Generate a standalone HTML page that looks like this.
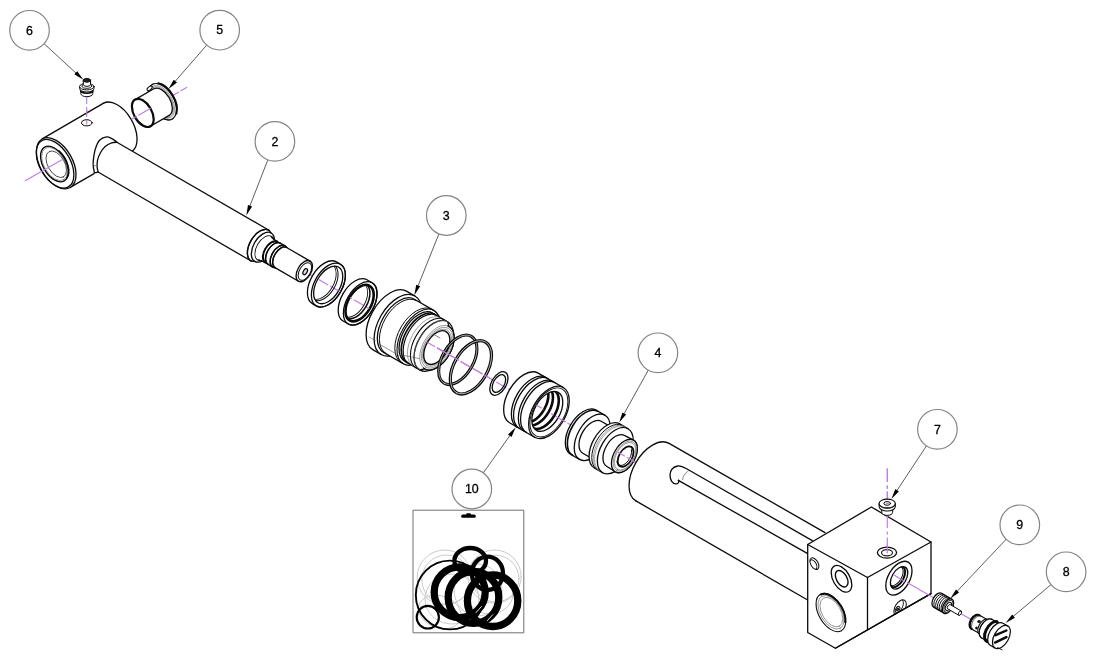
<!DOCTYPE html>
<html lang="en">
<head>
<meta charset="utf-8">
<title>Hydraulic cylinder exploded view</title>
<style>
html,body{margin:0;padding:0;background:#fff;}
body{width:1100px;height:669px;overflow:hidden;font-family:"Liberation Sans",sans-serif;}
svg{display:block;will-change:transform;filter:blur(0.35px);}
svg text{font-family:"Liberation Sans",sans-serif;}
</style>
</head>
<body>
<svg width="1100" height="669" viewBox="0 0 1100 669" stroke-linecap="round" stroke-linejoin="round">
<rect x="0" y="0" width="1100" height="669" fill="#fff"/>
<path d="M172.2 95.8 L187.2 87.1" fill="none" stroke="#c27de2" stroke-width="1.15" stroke-linecap="butt" stroke-dasharray="7.8 1.6"/>
<path d="M306.4 272.4 L650 470.7" fill="none" stroke="#c27de2" stroke-width="1.15" stroke-linecap="butt" stroke-dasharray="11.5 2.2"/>
<path d="M86.7 97 L86.7 124.5" fill="none" stroke="#c27de2" stroke-width="1.15" stroke-linecap="butt" stroke-dasharray="7 3"/>
<path d="M42.2 138.9L103.2 103.4A28 16.2 60 0 1 131.2 119.6A28 16.2 60 0 1 131.2 151.9L70.2 187.4A28 16.2 60 0 1 42.2 171.2A28 16.2 60 0 1 42.2 138.9Z" fill="#fff" stroke="none" stroke-width="1.3"/>
<path d="M42.2 138.9 L103.2 103.4" fill="none" stroke="#0a0a0a" stroke-width="1.3"/>
<path d="M103.2 103.4A28 16.2 60 0 1 130.7 118.6A28 16.2 60 0 1 132.3 151.2" fill="none" stroke="#0a0a0a" stroke-width="1.3"/>
<path d="M70.2 187.4 L94.1 173.6" fill="none" stroke="#0a0a0a" stroke-width="1.3"/>
<ellipse cx="56.2" cy="163.2" rx="28" ry="16.2" transform="rotate(60 56.2 163.2)" fill="#fff" stroke="#0a0a0a" stroke-width="1.3"/>
<ellipse cx="55.1" cy="163.8" rx="26.6" ry="15.3" transform="rotate(60 55.1 163.8)" fill="none" stroke="#0a0a0a" stroke-width="1.3"/>
<ellipse cx="54.4" cy="164" rx="19.5" ry="11.3" transform="rotate(60 54.4 164)" fill="none" stroke="#0a0a0a" stroke-width="1.4"/>
<ellipse cx="54.6" cy="164" rx="18.3" ry="10.6" transform="rotate(60 54.6 164)" fill="none" stroke="#6e6e6e" stroke-width="0.65"/>
<ellipse cx="56.3" cy="164.3" rx="14.6" ry="8.4" transform="rotate(60 56.3 164.3)" fill="none" stroke="#333" stroke-width="0.8"/>
<path d="M66.9 177.9A18.6 10.7 60 0 0 58.9 150.8" fill="none" stroke="#0a0a0a" stroke-width="1.5"/>
<path d="M25.2 180.8 L62.4 159.4" fill="none" stroke="#c27de2" stroke-width="1.15"/>
<ellipse cx="86.8" cy="122.8" rx="5.3" ry="3.1" fill="#fff" stroke="#0a0a0a" stroke-width="1"/>
<path d="M86.7 110 L86.7 124.5" fill="none" stroke="#c27de2" stroke-width="1.15" stroke-linecap="butt" stroke-dasharray="7 3"/>
<path d="M116 141.7L268.9 230.2A17.8 10.3 120 0 1 268.9 250.7A17.8 10.3 120 0 1 251.1 261L98 172C97.3 167 99 158 106 149 C110 144.5 113 142.5 116 141.7Z" fill="#fff" stroke="none" stroke-width="1.3"/>
<path d="M116.4 141.7C115.6 141.2 113.4 139.4 111.8 138.6C110.2 137.8 108.8 136.7 106.8 136.9C104.8 137.1 101.7 138.1 99.8 140C97.9 141.9 96.6 145.1 95.6 148.2C94.5 151.3 93.9 155.6 93.5 158.6C93.1 161.6 93 163.5 93.2 165.9C93.4 168.3 94.2 171.7 94.4 172.8L98.2 172.2" fill="none" stroke="#0a0a0a" stroke-width="1.3"/>
<path d="M117 142.2C116.1 142.3 113.6 142.2 111.6 142.9C109.6 143.6 107.1 144.8 105.2 146.5C103.3 148.2 101.6 150.7 100.3 153C99 155.3 98 158 97.5 160.3C97 162.6 97 164.7 97.1 166.7C97.2 168.7 98 171.3 98.2 172.2" fill="none" stroke="#0a0a0a" stroke-width="1.3"/>
<path d="M94.2 165.6 L97 166" fill="none" stroke="#6e6e6e" stroke-width="0.7"/>
<path d="M116 141.7 L268.9 230.2" fill="none" stroke="#0a0a0a" stroke-width="1.3"/>
<path d="M98 172 L251.1 261" fill="none" stroke="#0a0a0a" stroke-width="1.3"/>
<path d="M268.9 230.2A17.8 10.3 120 0 0 251.1 240.4A17.8 10.3 120 0 0 251.1 261L254.7 261.4A16.4 9.5 120 0 0 271.1 252A16.4 9.5 120 0 0 271.1 233Z" fill="#fff" stroke="#0a0a0a" stroke-width="1.3"/>
<path d="M271.1 233A16.4 9.5 120 0 0 254.7 242.5A16.4 9.5 120 0 0 254.7 261.4" fill="none" stroke="#0a0a0a" stroke-width="1.3"/>
<path d="M268.9 230.2A17.8 10.3 120 0 0 251.1 240.4A17.8 10.3 120 0 0 251.1 261" fill="none" stroke="#0a0a0a" stroke-width="1.3"/>
<ellipse cx="264.7" cy="248.3" rx="13.5" ry="7.8" transform="rotate(120 264.7 248.3)" fill="none" stroke="#0a0a0a" stroke-width="1.3"/>
<path d="M271.3 236.8A13.3 7.7 120 0 0 258.1 244.4A13.3 7.7 120 0 0 258.1 259.8L261.2 260.5A12.3 7.1 120 0 0 273.5 253.4A12.3 7.1 120 0 0 273.5 239.2Z" fill="#fff" stroke="none" stroke-width="1.3"/>
<path d="M258.1 259.8L261.2 260.5A12.3 7.1 120 0 0 273.5 253.4A12.3 7.1 120 0 0 273.5 239.2L271.3 236.8" fill="none" stroke="#0a0a0a" stroke-width="1.3"/>
<path d="M273.5 239.2A12.3 7.1 120 0 0 261.3 246.3A12.3 7.1 120 0 0 261.2 260.5L265.1 262.7A12.3 7.1 120 0 0 277.3 255.6A12.3 7.1 120 0 0 277.3 241.4Z" fill="#fff" stroke="none" stroke-width="1.3"/>
<path d="M261.2 260.5L265.1 262.7A12.3 7.1 120 0 0 277.3 255.6A12.3 7.1 120 0 0 277.3 241.4L273.5 239.2" fill="none" stroke="#0a0a0a" stroke-width="1.3"/>
<path d="M276.8 242.3A11.3 6.5 120 0 0 265.6 248.8A11.3 6.5 120 0 0 265.6 261.8L268.6 263.6A11.3 6.5 120 0 0 279.8 257A11.3 6.5 120 0 0 279.8 244Z" fill="#fff" stroke="#0a0a0a" stroke-width="1.3"/>
<path d="M277.3 241.4A12.3 7.1 120 0 0 265.1 248.5A12.3 7.1 120 0 0 265.1 262.7" fill="none" stroke="#0a0a0a" stroke-width="1.3"/>
<path d="M280.3 243.1A12.3 7.1 120 0 0 268.1 250.2A12.3 7.1 120 0 0 268.1 264.4L272.7 267.1A12.3 7.1 120 0 0 284.9 260A12.3 7.1 120 0 0 284.9 245.8Z" fill="#fff" stroke="#0a0a0a" stroke-width="1.3"/>
<path d="M280.3 243.1A12.3 7.1 120 0 0 268.1 250.2A12.3 7.1 120 0 0 268.1 264.4" fill="none" stroke="#0a0a0a" stroke-width="1.3"/>
<path d="M284.9 245.8A12.3 7.1 120 0 0 272.7 252.9A12.3 7.1 120 0 0 272.7 267.1L275 267.6A11.6 6.7 120 0 0 286.6 260.9A11.6 6.7 120 0 0 286.6 247.5Z" fill="#fff" stroke="#0a0a0a" stroke-width="1.3"/>
<path d="M284.9 245.8A12.3 7.1 120 0 0 272.7 252.9A12.3 7.1 120 0 0 272.7 267.1" fill="none" stroke="#0a0a0a" stroke-width="1.3"/>
<path d="M286.6 247.5A11.6 6.7 120 0 0 275 254.2A11.6 6.7 120 0 0 275 267.6L298.5 281.2A11.6 6.7 120 0 0 310.1 274.5A11.6 6.7 120 0 0 310.1 261.1Z" fill="#fff" stroke="#0a0a0a" stroke-width="1.3"/>
<path d="M310.1 261.1A11.6 6.7 120 0 0 298.5 267.8A11.6 6.7 120 0 0 298.5 281.2" fill="none" stroke="#0a0a0a" stroke-width="1.3"/>
<path d="M286.6 247.5A11.6 6.7 120 0 0 275 254.2A11.6 6.7 120 0 0 275 267.6" fill="none" stroke="#0a0a0a" stroke-width="1.3"/>
<ellipse cx="304.9" cy="271.5" rx="9.6" ry="5.5" transform="rotate(120 304.9 271.5)" fill="none" stroke="#0a0a0a" stroke-width="1"/>
<ellipse cx="305.2" cy="271.7" rx="3.3" ry="1.9" transform="rotate(120 305.2 271.7)" fill="#ddd" stroke="#0a0a0a" stroke-width="1.2"/>
<path d="M336.4 261.9A24.1 13.9 120 0 0 312.4 275.8A24.1 13.9 120 0 0 312.3 303.6L316.3 305.9A24.1 13.9 120 0 0 340.4 292A24.1 13.9 120 0 0 340.4 264.2Z" fill="#fff" stroke="#0a0a0a" stroke-width="1.3"/>
<ellipse cx="328.4" cy="285.1" rx="24.1" ry="13.9" transform="rotate(120 328.4 285.1)" fill="none" stroke="#0a0a0a" stroke-width="1.3"/>
<ellipse cx="328.2" cy="284.9" rx="20.6" ry="11.9" transform="rotate(120 328.2 284.9)" fill="#fff" stroke="#0a0a0a" stroke-width="1.3"/>
<clipPath id="c1"><ellipse cx="328.2" cy="284.9" rx="20.6" ry="11.9" transform="rotate(120 328.2 284.9)"/></clipPath><g clip-path="url(#c1)">
<path d="M306.4 272.4 L650 470.7" fill="none" stroke="#c27de2" stroke-width="1.15" stroke-linecap="butt" stroke-dasharray="11.5 2.2"/>
<ellipse cx="324" cy="282.5" rx="19.9" ry="11.5" transform="rotate(120 324 282.5)" fill="none" stroke="#0a0a0a" stroke-width="1"/>
<ellipse cx="322.6" cy="281.7" rx="19.3" ry="11.1" transform="rotate(120 322.6 281.7)" fill="none" stroke="#0a0a0a" stroke-width="0.9"/>
</g>
<path d="M366.9 279.8A23.8 13.7 120 0 0 343.1 293.6A23.8 13.7 120 0 0 343.1 321L348.3 324A23.8 13.7 120 0 0 372.1 310.3A23.8 13.7 120 0 0 372.1 282.8Z" fill="#fff" stroke="#0a0a0a" stroke-width="1.3"/>
<ellipse cx="360.2" cy="303.4" rx="23.8" ry="13.7" transform="rotate(120 360.2 303.4)" fill="none" stroke="#0a0a0a" stroke-width="1.3"/>
<ellipse cx="359.6" cy="303.1" rx="20" ry="11.5" transform="rotate(120 359.6 303.1)" fill="#fff" stroke="#0a0a0a" stroke-width="2.6"/>
<clipPath id="c2"><ellipse cx="359.6" cy="303.1" rx="19.4" ry="11.2" transform="rotate(120 359.6 303.1)"/></clipPath><g clip-path="url(#c2)">
<path d="M306.4 272.4 L650 470.7" fill="none" stroke="#c27de2" stroke-width="1.15" stroke-linecap="butt" stroke-dasharray="11.5 2.2"/>
<ellipse cx="356.2" cy="301.1" rx="19.4" ry="11.2" transform="rotate(120 356.2 301.1)" fill="none" stroke="#0a0a0a" stroke-width="1.5"/>
<ellipse cx="354.4" cy="300.1" rx="18.8" ry="10.8" transform="rotate(120 354.4 300.1)" fill="none" stroke="#0a0a0a" stroke-width="0.9"/>
</g>
<path d="M173.1 118.4A19.9 11.5 -120 0 0 173.1 95.4A19.9 11.5 -120 0 0 153.2 83.9L152.3 84.4A19.9 11.5 -120 0 0 152.3 107.4A19.9 11.5 -120 0 0 172.2 118.9Z" fill="#fff" stroke="none" stroke-width="1.1"/>
<path d="M153.2 83.9L152.3 84.4A19.9 11.5 -120 0 0 152.3 107.4A19.9 11.5 -120 0 0 172.2 118.9L173.1 118.4" fill="none" stroke="#0a0a0a" stroke-width="1.1"/>
<ellipse cx="162.3" cy="101.7" rx="19.9" ry="11.5" transform="rotate(-120 162.3 101.7)" fill="#fff" stroke="#0a0a0a" stroke-width="1.1"/>
<path d="M176.4 113.7A19.9 11.5 -120 0 0 158.2 83.3" fill="none" stroke="#0a0a0a" stroke-width="1.9"/>
<ellipse cx="161.8" cy="101.9" rx="18.2" ry="10.5" transform="rotate(-120 161.8 101.9)" fill="none" stroke="#6e6e6e" stroke-width="0.65"/>
<ellipse cx="161.5" cy="102.1" rx="17" ry="9.8" transform="rotate(-120 161.5 102.1)" fill="none" stroke="#6e6e6e" stroke-width="0.65"/>
<path d="M169.2 115.4A15.4 8.9 -120 0 0 169.2 97.7A15.4 8.9 -120 0 0 153.8 88.8L135.1 99.6A15.4 8.9 -120 0 0 135.1 117.3A15.4 8.9 -120 0 0 150.5 126.2Z" fill="#fff" stroke="#0a0a0a" stroke-width="1.3"/>
<ellipse cx="142.8" cy="112.9" rx="15.4" ry="8.9" transform="rotate(-120 142.8 112.9)" fill="#fff" stroke="#0a0a0a" stroke-width="2.2"/>
<ellipse cx="149.6" cy="88.3" rx="3" ry="1.6" transform="rotate(-40 149.6 88.3)" fill="#fff" stroke="#0a0a0a" stroke-width="1"/>
<path d="M132 119 L136.4 116.5" fill="none" stroke="#c27de2" stroke-width="1.15"/>
<path d="M138.6 115.2 L150.2 108.6" fill="none" stroke="#c27de2" stroke-width="1.15"/>
<path d="M80.8 91.5 L80.8 93.6 A6 3.1 0 0 0 92.8 93.6 L92.8 91.5Z" fill="#fff" stroke="#0a0a0a" stroke-width="1"/>
<path d="M80.6 90.6 A6.2 2.6 0 0 0 93 90.6" fill="none" stroke="#0a0a0a" stroke-width="1.6"/>
<path d="M79.6 86.6 L79.6 88.6 A7.2 3.4 0 0 0 94 88.6 L94 86.6Z" fill="#fff" stroke="#0a0a0a" stroke-width="1"/>
<ellipse cx="86.8" cy="86.6" rx="7.2" ry="3.3" fill="#fff" stroke="#0a0a0a" stroke-width="1"/>
<ellipse cx="86.8" cy="86" rx="4.8" ry="2.3" fill="#fff" stroke="#0a0a0a" stroke-width="0.9"/>
<path d="M83.2 80.4 L83.4 84.6 A3.5 1.8 0 0 0 90.4 84.6 L90.6 80.4Z" fill="#fff" stroke="#0a0a0a" stroke-width="1"/>
<ellipse cx="86.9" cy="80.3" rx="3.6" ry="1.9" fill="#222" stroke="#0a0a0a" stroke-width="1"/>
<path d="M406.9 291.4A33.8 19.5 120 0 0 373.1 310.9A33.8 19.5 120 0 0 373.1 349.9L381.1 354.5A33.8 19.5 120 0 0 414.9 335A33.8 19.5 120 0 0 414.9 296Z" fill="#fff" stroke="#0a0a0a" stroke-width="1.3"/>
<path d="M414.9 296A33.8 19.5 120 0 0 381.1 315.5A33.8 19.5 120 0 0 381.1 354.5" fill="none" stroke="#0a0a0a" stroke-width="1.3"/>
<path d="M414.4 299.2A30.7 17.7 120 0 0 383.7 317A30.7 17.7 120 0 0 383.6 352.4L403.3 363.8A30.7 17.7 120 0 0 434 346.1A30.7 17.7 120 0 0 434.1 310.6Z" fill="#fff" stroke="#0a0a0a" stroke-width="1.3"/>
<path d="M416 300.5A30.4 17.5 120 0 0 385.6 318.1A30.4 17.5 120 0 0 385.6 353.2" fill="none" stroke="#0a0a0a" stroke-width="1"/>
<path d="M431.8 309.3A30.7 17.7 120 0 0 401.1 327A30.7 17.7 120 0 0 401 362.5" fill="none" stroke="#0a0a0a" stroke-width="1"/>
<path d="M432.6 313.1A27.8 16 120 0 0 404.8 329.2A27.8 16 120 0 0 404.8 361.3L419.8 369.9A27.8 16 120 0 0 447.6 353.9A27.8 16 120 0 0 447.6 321.8Z" fill="#fff" stroke="#0a0a0a" stroke-width="1.3"/>
<path d="M434.1 310.6A30.7 17.7 120 0 0 403.4 328.3A30.7 17.7 120 0 0 403.3 363.8" fill="none" stroke="#0a0a0a" stroke-width="1.1"/>
<path d="M434.8 314.4A27.8 16 120 0 0 407 330.4A27.8 16 120 0 0 407 362.5" fill="none" stroke="#0a0a0a" stroke-width="1.7"/>
<path d="M436.7 315.5A27.8 16 120 0 0 408.9 331.5A27.8 16 120 0 0 408.9 363.6" fill="none" stroke="#0a0a0a" stroke-width="1.2"/>
<path d="M440.9 317.9A27.8 16 120 0 0 413.1 334A27.8 16 120 0 0 413.1 366.1" fill="none" stroke="#6e6e6e" stroke-width="0.65"/>
<path d="M444 319.7A27.8 16 120 0 0 416.2 335.8A27.8 16 120 0 0 416.2 367.9" fill="none" stroke="#0a0a0a" stroke-width="1.1"/>
<path d="M447.6 321.8A27.8 16 120 0 0 419.8 337.8A27.8 16 120 0 0 419.8 369.9L424.7 368.8A24.4 14.1 120 0 0 449.1 354.7A24.4 14.1 120 0 0 449.1 326.6Z" fill="#fff" stroke="#0a0a0a" stroke-width="1.3"/>
<path d="M447.6 321.8A27.8 16 120 0 0 419.8 337.8A27.8 16 120 0 0 419.8 369.9" fill="none" stroke="#6e6e6e" stroke-width="0.65"/>
<ellipse cx="436.9" cy="347.7" rx="24.4" ry="14.1" transform="rotate(120 436.9 347.7)" fill="#fff" stroke="#6e6e6e" stroke-width="0.65"/>
<path d="M423.5 368A24.4 14.1 120 0 0 449.1 354.7A24.4 14.1 120 0 0 447.8 326" fill="none" stroke="#0a0a0a" stroke-width="1.3"/>
<ellipse cx="437.1" cy="347.8" rx="22.4" ry="12.9" transform="rotate(120 437.1 347.8)" fill="none" stroke="#6e6e6e" stroke-width="0.65"/>
<ellipse cx="437" cy="347.8" rx="20.4" ry="11.8" transform="rotate(120 437 347.8)" fill="none" stroke="#6e6e6e" stroke-width="0.65"/>
<ellipse cx="436.8" cy="347.6" rx="18.5" ry="10.7" transform="rotate(120 436.8 347.6)" fill="none" stroke="#0a0a0a" stroke-width="1.4"/>
<clipPath id="c3"><ellipse cx="436.8" cy="347.6" rx="18.5" ry="10.7" transform="rotate(120 436.8 347.6)"/></clipPath><g clip-path="url(#c3)">
<path d="M306.4 272.4 L650 470.7" fill="none" stroke="#c27de2" stroke-width="1.15" stroke-linecap="butt" stroke-dasharray="11.5 2.2"/>
<path d="M430 332.2 L440 338" fill="none" stroke="#555" stroke-width="0.7"/>
</g>
<clipPath id="c4"><path d="M437.2 0L452 0L452 669L437.2 669Z"/></clipPath><g clip-path="url(#c4)">
<path d="M306.4 272.4 L650 470.7" fill="none" stroke="#c27de2" stroke-width="1.15" stroke-linecap="butt" stroke-dasharray="11.5 2.2"/>
</g>
<path d="M369 337 L375.4 340.7 M378 343.4 L398.6 355.3 M400 354.6 L419.4 358.6" fill="none" stroke="#555" stroke-width="0.6"/>
<ellipse cx="457.8" cy="359.8" rx="27.1" ry="15.6" transform="rotate(120 457.8 359.8)" fill="none" stroke="#0a0a0a" stroke-width="3.1"/>
<ellipse cx="457.8" cy="359.8" rx="27.1" ry="15.6" transform="rotate(120 457.8 359.8)" fill="none" stroke="#fff" stroke-width="0.7" stroke-opacity="0.8"/>
<ellipse cx="470.9" cy="367.3" rx="29.2" ry="16.8" transform="rotate(120 470.9 367.3)" fill="none" stroke="#0a0a0a" stroke-width="3.2"/>
<ellipse cx="470.9" cy="367.3" rx="29.2" ry="16.8" transform="rotate(120 470.9 367.3)" fill="none" stroke="#fff" stroke-width="0.8" stroke-opacity="0.8"/>
<clipPath id="c5"><path d="M437.2 0L490 0L490 669L437.2 669Z"/></clipPath><g clip-path="url(#c5)">
<path d="M306.4 272.4 L650 470.7" fill="none" stroke="#c27de2" stroke-width="1.15" stroke-linecap="butt" stroke-dasharray="11.5 2.2"/>
</g>
<ellipse cx="498.9" cy="383.5" rx="12.9" ry="7.4" transform="rotate(120 498.9 383.5)" fill="none" stroke="#0a0a0a" stroke-width="1.3"/>
<ellipse cx="498.9" cy="383.5" rx="9.6" ry="5.5" transform="rotate(120 498.9 383.5)" fill="none" stroke="#0a0a0a" stroke-width="1.3"/>
<path d="M538.2 373.1A28.7 16.6 120 0 0 509.6 389.7A28.7 16.6 120 0 0 509.5 422.8L534.6 437.3A28.7 16.6 120 0 0 563.3 420.7A28.7 16.6 120 0 0 563.3 387.5Z" fill="#fff" stroke="#0a0a0a" stroke-width="1.3"/>
<path d="M563.3 387.5A28.7 16.6 120 0 0 534.6 404.1A28.7 16.6 120 0 0 534.6 437.3" fill="none" stroke="#0a0a0a" stroke-width="1.3"/>
<path d="M546 377.5A28.7 16.6 120 0 0 517.3 394.1A28.7 16.6 120 0 0 517.2 427.2" fill="none" stroke="#0a0a0a" stroke-width="1.3"/>
<path d="M548.1 378.8A28.7 16.6 120 0 0 519.5 395.4A28.7 16.6 120 0 0 519.4 428.5" fill="none" stroke="#0a0a0a" stroke-width="1.3"/>
<path d="M553 381.6A28.7 16.6 120 0 0 524.3 398.1A28.7 16.6 120 0 0 524.3 431.3" fill="none" stroke="#0a0a0a" stroke-width="1.3"/>
<path d="M555.1 382.8A28.7 16.6 120 0 0 526.5 399.4A28.7 16.6 120 0 0 526.4 432.5" fill="none" stroke="#0a0a0a" stroke-width="1.3"/>
<ellipse cx="548.9" cy="412.4" rx="26.8" ry="15.5" transform="rotate(120 548.9 412.4)" fill="none" stroke="#0a0a0a" stroke-width="0.9"/>
<ellipse cx="547.3" cy="411.4" rx="21.9" ry="12.6" transform="rotate(120 547.3 411.4)" fill="#fff" stroke="#0a0a0a" stroke-width="1.3"/>
<clipPath id="c6"><ellipse cx="547.3" cy="411.4" rx="21.9" ry="12.6" transform="rotate(120 547.3 411.4)"/></clipPath><g clip-path="url(#c6)">
<ellipse cx="543.6" cy="409.3" rx="21.5" ry="12.4" transform="rotate(120 543.6 409.3)" fill="none" stroke="#0a0a0a" stroke-width="2.6"/>
<clipPath id="c7"><ellipse cx="543.6" cy="409.3" rx="21.5" ry="12.4" transform="rotate(120 543.6 409.3)"/></clipPath><g clip-path="url(#c7)">
<ellipse cx="538" cy="406.1" rx="21.2" ry="12.2" transform="rotate(120 538 406.1)" fill="none" stroke="#0a0a0a" stroke-width="2.6"/>
<clipPath id="c8"><ellipse cx="538" cy="406.1" rx="21.2" ry="12.2" transform="rotate(120 538 406.1)"/></clipPath><g clip-path="url(#c8)">
<ellipse cx="533.6" cy="403.5" rx="20.9" ry="12.1" transform="rotate(120 533.6 403.5)" fill="none" stroke="#0a0a0a" stroke-width="2.6"/>
<clipPath id="c9"><ellipse cx="533.6" cy="403.5" rx="20.9" ry="12.1" transform="rotate(120 533.6 403.5)"/></clipPath><g clip-path="url(#c9)">
<path d="M306.4 272.4 L650 470.7" fill="none" stroke="#c27de2" stroke-width="1.15" stroke-linecap="butt" stroke-dasharray="11.5 2.2"/>
</g></g></g></g>
<clipPath id="c10"><path d="M551 0L566 0L566 669L551 669Z"/></clipPath><g clip-path="url(#c10)">
<path d="M306.4 272.4 L650 470.7" fill="none" stroke="#c27de2" stroke-width="1.15" stroke-linecap="butt" stroke-dasharray="11.5 2.2"/>
</g>
<path d="M596 410.1A25.5 14.7 120 0 0 570.6 424.9A25.5 14.7 120 0 0 570.5 454.3L579.5 459.4A25.5 14.7 120 0 0 604.9 444.7A25.5 14.7 120 0 0 605 415.3Z" fill="#fff" stroke="#0a0a0a" stroke-width="1.3"/>
<path d="M605 415.3A25.5 14.7 120 0 0 579.5 430A25.5 14.7 120 0 0 579.5 459.4" fill="none" stroke="#0a0a0a" stroke-width="1.3"/>
<path d="M597.9 411.4A25.3 14.6 120 0 0 572.6 426A25.3 14.6 120 0 0 572.6 455.2" fill="none" stroke="#0a0a0a" stroke-width="1.6"/>
<path d="M601.2 421.2A18.5 10.7 120 0 0 582.8 431.9A18.5 10.7 120 0 0 582.8 453.3L597.8 461.9A18.5 10.7 120 0 0 616.2 451.2A18.5 10.7 120 0 0 616.2 429.9Z" fill="#fff" stroke="#0a0a0a" stroke-width="1.3"/>
<path d="M619.7 423.9A25.4 14.7 120 0 0 594.3 438.6A25.4 14.7 120 0 0 594.3 467.9L602.6 472.7A25.4 14.7 120 0 0 628 458A25.4 14.7 120 0 0 628 428.7Z" fill="#fff" stroke="#0a0a0a" stroke-width="1.3"/>
<path d="M628 428.7A25.4 14.7 120 0 0 602.6 443.4A25.4 14.7 120 0 0 602.6 472.7" fill="none" stroke="#0a0a0a" stroke-width="1.3"/>
<path d="M622.3 425.4A25.4 14.7 120 0 0 596.9 440.1A25.4 14.7 120 0 0 596.9 469.4" fill="none" stroke="#0a0a0a" stroke-width="1"/>
<path d="M623.9 426.3A25.4 14.7 120 0 0 598.5 441A25.4 14.7 120 0 0 598.5 470.3" fill="none" stroke="#6e6e6e" stroke-width="0.65"/>
<path d="M625.1 427A25.4 14.7 120 0 0 599.7 441.7A25.4 14.7 120 0 0 599.7 471" fill="none" stroke="#6e6e6e" stroke-width="0.65"/>
<path d="M624.4 435.4A17.8 10.3 120 0 0 606.6 445.7A17.8 10.3 120 0 0 606.6 466.2L615.2 471.8A18.3 10.6 120 0 0 633.5 461.2A18.3 10.6 120 0 0 633.5 440.1Z" fill="#fff" stroke="#0a0a0a" stroke-width="1.3"/>
<ellipse cx="624.4" cy="456" rx="18.3" ry="10.6" transform="rotate(120 624.4 456)" fill="#fff" stroke="#0a0a0a" stroke-width="1.3"/>
<ellipse cx="624.8" cy="456.2" rx="16.6" ry="9.6" transform="rotate(120 624.8 456.2)" fill="none" stroke="#6e6e6e" stroke-width="0.65"/>
<ellipse cx="625" cy="456.3" rx="15.2" ry="8.8" transform="rotate(120 625 456.3)" fill="none" stroke="#6e6e6e" stroke-width="0.65"/>
<ellipse cx="625.6" cy="456.6" rx="11.2" ry="6.5" transform="rotate(120 625.6 456.6)" fill="none" stroke="#0a0a0a" stroke-width="1.8"/>
<path d="M616.8 461.7A10.6 6.1 120 0 0 625.8 463.4A10.6 6.1 120 0 0 631.5 449.6" fill="none" stroke="#0a0a0a" stroke-width="1"/>
<clipPath id="c11"><path d="M618 0L637 0L637 669L618 669Z"/></clipPath><g clip-path="url(#c11)">
<path d="M306.4 272.4 L650 470.7" fill="none" stroke="#c27de2" stroke-width="1.15" stroke-linecap="butt" stroke-dasharray="11.5 2.2"/>
</g>
<path d="M669.1 443.4A33.2 19.2 120 0 0 635.9 462.6A33.2 19.2 120 0 0 635.9 500.9L807.7 600L825 532.6Z" fill="#fff" stroke="none" stroke-width="1.3"/>
<path d="M669.1 443.4A33.2 19.2 120 0 0 635.9 462.6A33.2 19.2 120 0 0 635.9 500.9" fill="none" stroke="#0a0a0a" stroke-width="1.3"/>
<path d="M669.1 443.4 L825 532.6" fill="none" stroke="#0a0a0a" stroke-width="1.3"/>
<path d="M635.9 500.9 L807.7 600" fill="none" stroke="#0a0a0a" stroke-width="1.3"/>
<path d="M812.3 540.6 L686.6 468.8 C682 466.2 679.6 465.8 677.7 466 C673 466.6 670 470.5 670 475 C670 480 672.5 483.9 675.9 483.9 C677.9 483.9 679.4 482.2 678.5 480.2" fill="none" stroke="#0a0a0a" stroke-width="1.3"/>
<path d="M807.7 553.6 L678.4 480.4" fill="none" stroke="#0a0a0a" stroke-width="1.3"/>
<path d="M688.4 470.9 C684.8 473.4 682.7 476.4 682.6 479.6" fill="none" stroke="#6e6e6e" stroke-width="0.8"/>
<path d="M807.7 544.5L871.4 507L931 542L931 593.6L835.4 648.2L807.7 632.5Z" fill="#fff" stroke="#0a0a0a" stroke-width="1.3"/>
<path d="M807.7 544.5L867.5 577.5L931 542" fill="none" stroke="#0a0a0a" stroke-width="1.3"/>
<path d="M867.5 577.5 L867.5 630" fill="none" stroke="#0a0a0a" stroke-width="1.3"/>
<path d="M887.3 468.5 L887.3 553" fill="none" stroke="#c27de2" stroke-width="1.15" stroke-linecap="butt" stroke-dasharray="13.5 3.5 3.2 2.8"/>
<ellipse cx="887" cy="552.6" rx="9.6" ry="5.5" fill="#fff" stroke="#0a0a0a" stroke-width="1.3"/>
<ellipse cx="887" cy="552.8" rx="5.5" ry="3.1" fill="#fff" stroke="#222" stroke-width="1.2"/>
<path d="M887.3 545 L887.3 553" fill="none" stroke="#c27de2" stroke-width="1.15"/>
<ellipse cx="814.4" cy="563.7" rx="6.4" ry="3.7" transform="rotate(60 814.4 563.7)" fill="none" stroke="#0a0a0a" stroke-width="1"/>
<clipPath id="c12"><ellipse cx="814.4" cy="563.7" rx="6.4" ry="3.7" transform="rotate(60 814.4 563.7)"/></clipPath><g clip-path="url(#c12)">
<ellipse cx="813.2" cy="564.6" rx="5.2" ry="3" transform="rotate(60 813.2 564.6)" fill="none" stroke="#0a0a0a" stroke-width="1"/>
</g>
<ellipse cx="841.5" cy="578.8" rx="14.6" ry="8.4" transform="rotate(60 841.5 578.8)" fill="none" stroke="#0a0a0a" stroke-width="1.3"/>
<ellipse cx="841.7" cy="578.7" rx="9" ry="5.2" transform="rotate(60 841.7 578.7)" fill="none" stroke="#0a0a0a" stroke-width="1.4"/>
<ellipse cx="830.9" cy="612.5" rx="21" ry="12.1" transform="rotate(60 830.9 612.5)" fill="none" stroke="#0a0a0a" stroke-width="1.1"/>
<ellipse cx="831" cy="612.4" rx="18.4" ry="10.6" transform="rotate(60 831 612.4)" fill="none" stroke="#6e6e6e" stroke-width="0.65"/>
<ellipse cx="831.4" cy="612.2" rx="16.2" ry="9.3" transform="rotate(60 831.4 612.2)" fill="none" stroke="#777" stroke-width="0.7"/>
<path d="M845.3 622.3A20.5 11.8 60 0 0 837.3 601.2A20.5 11.8 60 0 0 821.1 594.5" fill="none" stroke="#0a0a0a" stroke-width="2"/>
<ellipse cx="898.9" cy="578.2" rx="18.5" ry="10.7" transform="rotate(120 898.9 578.2)" fill="none" stroke="#0a0a0a" stroke-width="1.3"/>
<ellipse cx="899.1" cy="577.8" rx="12.3" ry="7.1" transform="rotate(120 899.1 577.8)" fill="none" stroke="#0a0a0a" stroke-width="1.3"/>
<clipPath id="c13"><ellipse cx="899.1" cy="577.8" rx="12.3" ry="7.1" transform="rotate(120 899.1 577.8)"/></clipPath><g clip-path="url(#c13)">
<ellipse cx="897" cy="576.6" rx="11.6" ry="6.7" transform="rotate(120 897 576.6)" fill="none" stroke="#0a0a0a" stroke-width="2"/>
<ellipse cx="895.6" cy="575.8" rx="10.8" ry="6.2" transform="rotate(120 895.6 575.8)" fill="none" stroke="#0a0a0a" stroke-width="1"/>
</g>
<clipPath id="c14"><path d="M867.5 577.5L931 542L931 593.6L867.5 630Z"/></clipPath><g clip-path="url(#c14)">
<ellipse cx="900.1" cy="607.9" rx="8.8" ry="5.1" transform="rotate(120 900.1 607.9)" fill="none" stroke="#0a0a0a" stroke-width="1"/>
<clipPath id="c15"><ellipse cx="900.1" cy="607.9" rx="8.8" ry="5.1" transform="rotate(120 900.1 607.9)"/></clipPath><g clip-path="url(#c15)">
<ellipse cx="897.6" cy="606.5" rx="8.2" ry="4.7" transform="rotate(120 897.6 606.5)" fill="none" stroke="#0a0a0a" stroke-width="0.9"/>
</g>
<ellipse cx="897.6" cy="609.4" rx="3.3" ry="1.9" transform="rotate(120 897.6 609.4)" fill="none" stroke="#0a0a0a" stroke-width="0.9"/>
<ellipse cx="897.6" cy="609.4" rx="1.5" ry="0.9" transform="rotate(120 897.6 609.4)" fill="#444" stroke="#0a0a0a" stroke-width="0.9"/>
</g>
<path d="M931 593.6 L835.4 648.2" fill="none" stroke="#0a0a0a" stroke-width="1.3"/>
<path d="M893.2 574.6 L905 581.4" fill="none" stroke="#c27de2" stroke-width="1.15" stroke-linecap="butt"/>
<path d="M907.1 582.6 L934 598.1" fill="none" stroke="#c27de2" stroke-width="1.15" stroke-linecap="butt"/>
<path d="M958 612 L972 620" fill="none" stroke="#c27de2" stroke-width="1.15" stroke-linecap="butt"/>
<path d="M887.3 468.5 L887.3 500" fill="none" stroke="#c27de2" stroke-width="1.15" stroke-linecap="butt" stroke-dasharray="13.5 3.5 3.2 2.8"/>
<path d="M881.6 508 L881.8 512.6 A5.4 2.8 0 0 0 892.6 512.6 L892.8 508Z" fill="#fff" stroke="#0a0a0a" stroke-width="1"/>
<path d="M879.1 503.5 L879.1 506.6 A8.1 4.4 0 0 0 895.3 506.6 L895.3 503.5Z" fill="#fff" stroke="#0a0a0a" stroke-width="1.1"/>
<ellipse cx="887.2" cy="503.5" rx="8.1" ry="4.4" fill="#fff" stroke="#0a0a0a" stroke-width="1.1"/>
<path d="M879.4 505.2 A8.1 4.4 0 0 0 895 505.2" fill="none" stroke="#0a0a0a" stroke-width="0.8"/>
<ellipse cx="887.2" cy="503.4" rx="3.3" ry="1.9" fill="#fff" stroke="#0a0a0a" stroke-width="1"/>
<ellipse cx="887.4" cy="503.5" rx="1.2" ry="0.7" fill="#c27de2" stroke="#c27de2" stroke-width="0.6"/>
<path d="M941.6 593.3A8 4.6 120 0 0 933.6 597.9A8 4.6 120 0 0 933.6 607.1L944 613.1A8 4.6 120 0 0 952 608.5A8 4.6 120 0 0 952 599.3Z" fill="#fff" stroke="#0a0a0a" stroke-width="1.3"/>
<path d="M952 599.3A8 4.6 120 0 0 944 603.9A8 4.6 120 0 0 944 613.1" fill="none" stroke="#0a0a0a" stroke-width="1.3"/>
<path d="M943.4 594.3A8 4.6 120 0 0 935.4 598.9A8 4.6 120 0 0 935.4 608.2" fill="none" stroke="#0a0a0a" stroke-width="1"/>
<path d="M945.2 595.3A8 4.6 120 0 0 937.2 600A8 4.6 120 0 0 937.2 609.2" fill="none" stroke="#0a0a0a" stroke-width="1"/>
<path d="M947 596.4A8 4.6 120 0 0 939 601A8 4.6 120 0 0 939 610.2" fill="none" stroke="#0a0a0a" stroke-width="1"/>
<path d="M948.8 597.4A8 4.6 120 0 0 940.8 602A8 4.6 120 0 0 940.8 611.3" fill="none" stroke="#0a0a0a" stroke-width="1"/>
<path d="M950.6 598.5A8 4.6 120 0 0 942.6 603.1A8 4.6 120 0 0 942.6 612.3" fill="none" stroke="#0a0a0a" stroke-width="1"/>
<ellipse cx="948.4" cy="606.4" rx="6.6" ry="3.8" transform="rotate(120 948.4 606.4)" fill="none" stroke="#0a0a0a" stroke-width="0.8"/>
<ellipse cx="948.4" cy="606.4" rx="4.4" ry="2.5" transform="rotate(120 948.4 606.4)" fill="none" stroke="#0a0a0a" stroke-width="1.1"/>
<path d="M950.2 604.6A2.5 1.4 120 0 0 947.8 606A2.5 1.4 120 0 0 947.8 608.9L958.8 615.3A2.5 1.4 120 0 0 961.2 613.8A2.5 1.4 120 0 0 961.2 611Z" fill="#fff" stroke="#0a0a0a" stroke-width="1"/>
<path d="M961.2 611A2.5 1.4 120 0 0 958.8 612.4A2.5 1.4 120 0 0 958.8 615.3" fill="none" stroke="#0a0a0a" stroke-width="1"/>
<path d="M978.6 614.7A7.9 4.6 120 0 0 970.7 619.3A7.9 4.6 120 0 0 970.6 628.4L980 633.8A7.9 4.6 120 0 0 987.9 629.3A7.9 4.6 120 0 0 988 620.1Z" fill="#fff" stroke="#0a0a0a" stroke-width="1.1"/>
<path d="M979.4 615.2A7.9 4.6 120 0 0 971.5 619.7A7.9 4.6 120 0 0 971.4 628.9" fill="none" stroke="#0a0a0a" stroke-width="2"/>
<path d="M981 616.1A7.9 4.6 120 0 0 973.1 620.7A7.9 4.6 120 0 0 973 629.8" fill="none" stroke="#0a0a0a" stroke-width="0.7"/>
<path d="M988.4 619.4A8.8 5.1 120 0 0 979.6 624.4A8.8 5.1 120 0 0 979.6 634.6L981.3 637.7A10.6 6.1 120 0 0 991.9 631.5A10.6 6.1 120 0 0 991.9 619.3Z" fill="#fff" stroke="#0a0a0a" stroke-width="1.1"/>
<path d="M991.9 619.3A10.6 6.1 120 0 0 981.3 625.4A10.6 6.1 120 0 0 981.3 637.7L990.7 643.1A10.6 6.1 120 0 0 1001.3 637A10.6 6.1 120 0 0 1001.3 624.7Z" fill="#fff" stroke="#0a0a0a" stroke-width="1.1"/>
<path d="M991.9 619.3A10.6 6.1 120 0 0 981.3 625.4A10.6 6.1 120 0 0 981.3 637.7" fill="none" stroke="#0a0a0a" stroke-width="0.9"/>
<ellipse cx="979.0" cy="621.6" rx="1.7" ry="1.5" fill="#111"/>
<ellipse cx="976.5" cy="627.9" rx="1.3" ry="1.5" fill="#111"/>
<path d="M997.1 621.8A11.1 6.4 120 0 0 986.2 629.8A11.1 6.4 120 0 0 987.4 641.7" fill="none" stroke="#0a0a0a" stroke-width="3"/>
<path d="M1003 623.3A12.7 7.3 120 0 0 990.3 630.6A12.7 7.3 120 0 0 990.2 645.2L995 648A12.7 7.3 120 0 0 1007.7 640.7A12.7 7.3 120 0 0 1007.8 626Z" fill="#fff" stroke="#0a0a0a" stroke-width="1.2"/>
<path d="M1007.8 626A12.7 7.3 120 0 0 995.1 633.4A12.7 7.3 120 0 0 995 648" fill="none" stroke="#0a0a0a" stroke-width="1.2"/>
<path d="M997.6 647.6 L1002 649.8" fill="none" stroke="#0a0a0a" stroke-width="0.9"/>
<path d="M995.6 635.2 L1006.4 630.5" fill="none" stroke="#0a0a0a" stroke-width="2.4"/>
<path d="M995 642.6 L1006.4 637.1" fill="none" stroke="#0a0a0a" stroke-width="2.4"/>
<g>
<rect x="413.4" y="510.2" width="110.4" height="122.6" fill="#fff" stroke="#707070" stroke-width="1"/>
<rect x="461.2" y="514.6" width="14.6" height="3.2" rx="1.6" fill="#000"/>
<rect x="466" y="513.2" width="5" height="3" rx="1.4" fill="#000"/>
<ellipse cx="444.6" cy="577.4" rx="27.4" ry="27.4" fill="none" stroke="#c4c4c4" stroke-width="0.9"/>
<ellipse cx="446.4" cy="579.6" rx="24.6" ry="24.6" fill="none" stroke="#c4c4c4" stroke-width="0.9"/>
<ellipse cx="494.6" cy="576.6" rx="26.6" ry="26.6" fill="none" stroke="#c4c4c4" stroke-width="0.9"/>
<ellipse cx="495.6" cy="578.6" rx="23.4" ry="23.4" fill="none" stroke="#c4c4c4" stroke-width="0.9"/>
<ellipse cx="452" cy="599" rx="27" ry="25" fill="none" stroke="#c4c4c4" stroke-width="0.9"/>
<ellipse cx="478" cy="590" rx="24" ry="26" fill="none" stroke="#c4c4c4" stroke-width="0.9"/>
<ellipse cx="490" cy="594" rx="23" ry="20" fill="none" stroke="#c4c4c4" stroke-width="0.9"/>
<ellipse cx="440" cy="612" rx="22" ry="16" fill="none" stroke="#c4c4c4" stroke-width="0.9" transform="rotate(20 440 612)"/>
<ellipse cx="450" cy="595" rx="34.2" ry="34.4" fill="none" stroke="#000" stroke-width="1.9"/>
<ellipse cx="427.8" cy="617.2" rx="11.1" ry="11.3" fill="none" stroke="#000" stroke-width="2.1"/>
<ellipse cx="470.2" cy="560.8" rx="15.8" ry="12.8" fill="none" stroke="#000" stroke-width="4.3"/>
<ellipse cx="487.4" cy="573.2" rx="15.6" ry="16.6" fill="none" stroke="#000" stroke-width="4.3"/>
<ellipse cx="459.7" cy="592.2" rx="25.5" ry="25.4" fill="none" stroke="#000" stroke-width="7.3"/>
<ellipse cx="473.5" cy="597.4" rx="25.3" ry="26" fill="none" stroke="#000" stroke-width="7.3"/>
<ellipse cx="492.6" cy="600.7" rx="25.2" ry="25.8" fill="none" stroke="#000" stroke-width="7.3"/>
<path d="M476 612.6 L481.4 606.6 M487.4 620.6 L492.6 614.8" stroke="#fff" stroke-width="0.9" fill="none"/>
</g>
<path d="M44.1 43.7 L75.7 72.8" stroke="#4d4d4d" stroke-width="0.9" fill="none"/>
<path d="M83.4 79.8 L74.3 74.3 L77.2 71.2Z" fill="#000" stroke="none"/>
<circle cx="29.5" cy="30.3" r="19.8" fill="#fff" stroke="#858585" stroke-width="1.2"/>
<text x="29.5" y="34.5" text-anchor="middle" font-size="12.4" fill="#000" stroke="#000" stroke-width="0.3">6</text>
<path d="M206.7 45.1 L175.3 81.2" stroke="#4d4d4d" stroke-width="0.9" fill="none"/>
<path d="M168.5 89 L173.7 79.7 L177 82.6Z" fill="#000" stroke="none"/>
<circle cx="219.7" cy="30.2" r="19.8" fill="#fff" stroke="#858585" stroke-width="1.2"/>
<text x="219.7" y="34.4" text-anchor="middle" font-size="12.4" fill="#000" stroke="#000" stroke-width="0.3">5</text>
<path d="M267.8 159.9 L250 205.7" stroke="#4d4d4d" stroke-width="0.9" fill="none"/>
<path d="M246.3 215.4 L248 204.9 L252.1 206.5Z" fill="#000" stroke="none"/>
<circle cx="274.9" cy="141.4" r="19.8" fill="#fff" stroke="#858585" stroke-width="1.2"/>
<text x="274.9" y="145.6" text-anchor="middle" font-size="12.4" fill="#000" stroke="#000" stroke-width="0.3">2</text>
<path d="M438.9 233.9 L418.2 285.5" stroke="#4d4d4d" stroke-width="0.9" fill="none"/>
<path d="M414.3 295.2 L416.2 284.7 L420.2 286.3Z" fill="#000" stroke="none"/>
<circle cx="446.3" cy="215.5" r="19.8" fill="#fff" stroke="#858585" stroke-width="1.2"/>
<text x="446.3" y="219.7" text-anchor="middle" font-size="12.4" fill="#000" stroke="#000" stroke-width="0.3">3</text>
<path d="M648.3 370.1 L624.2 413.5" stroke="#4d4d4d" stroke-width="0.9" fill="none"/>
<path d="M619.2 422.6 L622.4 412.5 L626.1 414.5Z" fill="#000" stroke="none"/>
<circle cx="657.9" cy="352.8" r="19.8" fill="#fff" stroke="#858585" stroke-width="1.2"/>
<text x="657.9" y="357" text-anchor="middle" font-size="12.4" fill="#000" stroke="#000" stroke-width="0.3">4</text>
<path d="M483.3 472.9 L509.8 435.7" stroke="#4d4d4d" stroke-width="0.9" fill="none"/>
<path d="M515.8 427.2 L511.5 436.9 L508 434.4Z" fill="#000" stroke="none"/>
<circle cx="471.8" cy="489" r="19.8" fill="#fff" stroke="#858585" stroke-width="1.2"/>
<text x="471.8" y="493.2" text-anchor="middle" font-size="12.4" fill="#000" stroke="#000" stroke-width="0.3" letter-spacing="-0.15">10</text>
<path d="M926.5 445.8 L897.1 490.3" stroke="#4d4d4d" stroke-width="0.9" fill="none"/>
<path d="M891.4 499 L895.3 489.1 L898.9 491.5Z" fill="#000" stroke="none"/>
<circle cx="937.4" cy="429.3" r="19.8" fill="#fff" stroke="#858585" stroke-width="1.2"/>
<text x="937.4" y="433.5" text-anchor="middle" font-size="12.4" fill="#000" stroke="#000" stroke-width="0.3">7</text>
<path d="M1006.2 539.2 L957.5 590.9" stroke="#4d4d4d" stroke-width="0.9" fill="none"/>
<path d="M950.4 598.5 L956 589.5 L959.1 592.4Z" fill="#000" stroke="none"/>
<circle cx="1019.8" cy="524.8" r="19.8" fill="#fff" stroke="#858585" stroke-width="1.2"/>
<text x="1019.8" y="529" text-anchor="middle" font-size="12.4" fill="#000" stroke="#000" stroke-width="0.3">9</text>
<path d="M1051 584.6 L1013.5 616.2" stroke="#4d4d4d" stroke-width="0.9" fill="none"/>
<path d="M1005.6 622.9 L1012.2 614.5 L1014.9 617.8Z" fill="#000" stroke="none"/>
<circle cx="1066.1" cy="571.8" r="19.8" fill="#fff" stroke="#858585" stroke-width="1.2"/>
<text x="1066.1" y="576" text-anchor="middle" font-size="12.4" fill="#000" stroke="#000" stroke-width="0.3">8</text>
</svg>
</body>
</html>
